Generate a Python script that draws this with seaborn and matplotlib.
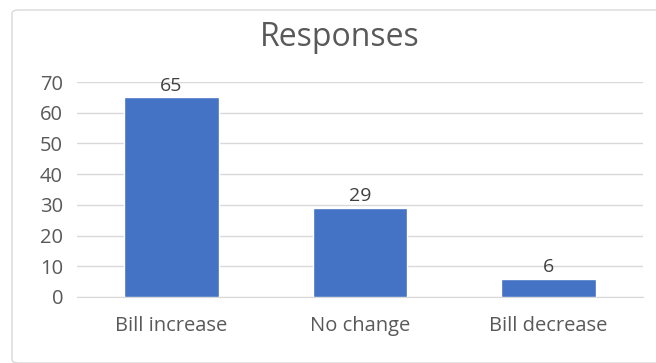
import matplotlib
matplotlib.use("Agg")
import matplotlib.pyplot as plt
import seaborn as sns
import pandas as pd
from matplotlib.patches import FancyBboxPatch

categories = ["Bill increase", "No change", "Bill decrease"]
values = [65, 29, 6]
yticks = [0, 10, 20, 30, 40, 50, 60, 70]
title = "Responses"

sns.set_style("white")
plt.rcParams['font.family'] = ['Open Sans', 'DejaVu Sans']

df = pd.DataFrame({"category": categories, "value": values})

fig = plt.figure(figsize=(6.56, 3.63), dpi=100)
fig.patch.set_facecolor("white")
border = FancyBboxPatch((12/656, 0.0), 1.0, 1 - 10/363, boxstyle="round,pad=0,rounding_size=0.01",
                        transform=fig.transFigure, facecolor="none", edgecolor="#d9d9d9",
                        linewidth=1.0, zorder=-5)
fig.patches.append(border)

ax = fig.add_axes([77/656, 1 - 297/363, (643 - 77)/656, (297 - 82)/363])
ax.set_facecolor("none")
sns.barplot(data=df, x="category", y="value", color="#4472c4", width=0.5,
            saturation=1, ax=ax, zorder=3)
ax.set_ylim(0, 70)
ax.set_xlim(-0.5, 2.5)
ax.set_yticks(yticks)
ax.yaxis.grid(True, color="#d9d9d9", linewidth=1.0, zorder=0)
ax.set_axisbelow(True)
for s in ["top", "right", "left"]:
    ax.spines[s].set_visible(False)
ax.spines["bottom"].set_color("#d9d9d9")
ax.tick_params(axis="both", length=0, labelsize=14.5, colors="#595959")
ax.tick_params(axis="y", pad=10)
ax.tick_params(axis="x", pad=14)
ax.set_xlabel("")
ax.set_ylabel("")
for c in ax.containers:
    ax.bar_label(c, labels=[str(v) for v in values], padding=2, fontsize=14, color="#404040")

fig.text(340/656, 1 - 38/363, title, ha="center", va="center", fontsize=23, color="#595959")

fig.savefig("out.png", dpi=100)
